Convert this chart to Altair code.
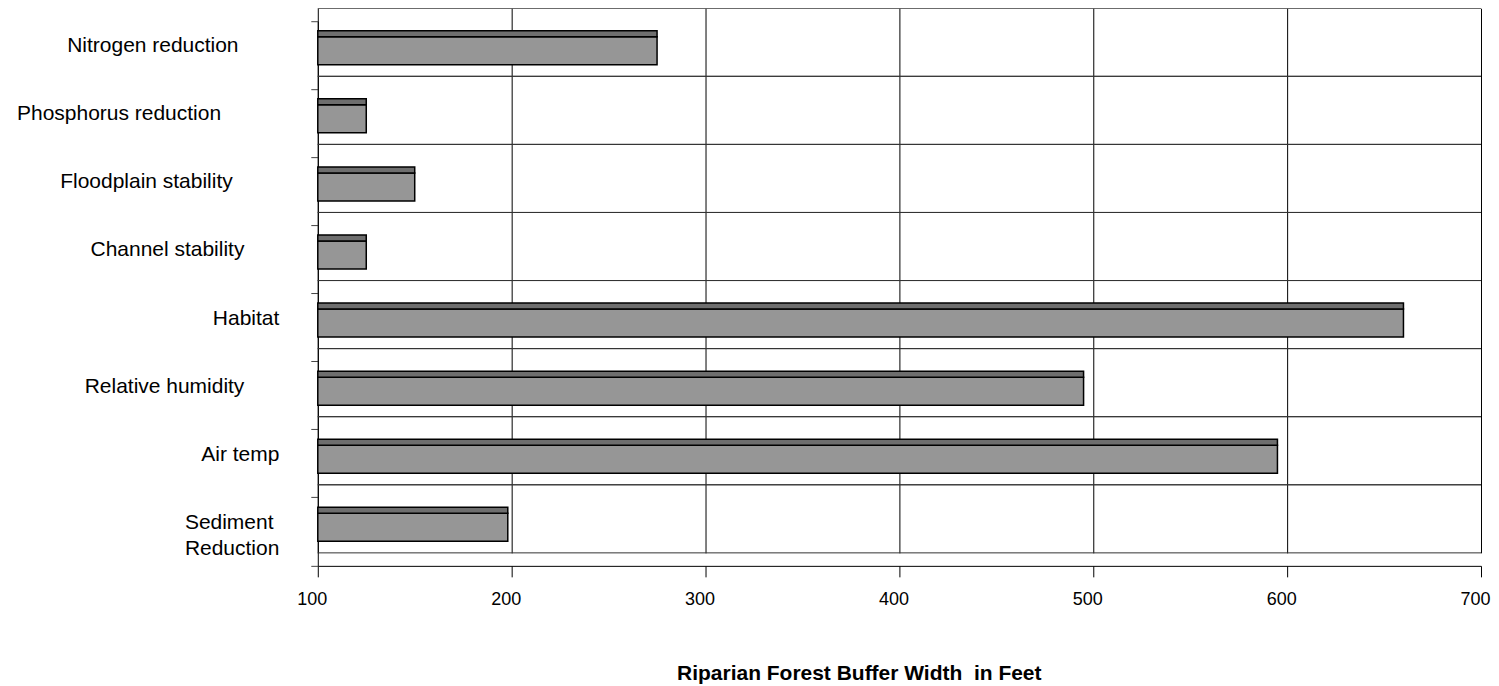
import altair as alt
import pandas as pd

# ---- data ----
categories = [
    "Nitrogen reduction",
    "Phosphorus reduction",
    "Floodplain stability",
    "Channel stability",
    "Habitat",
    "Relative humidity",
    "Air temp",
    "Sediment Reduction",
]
widths_ft = [275, 125, 150, 125, 660, 495, 595, 198]
x_ticks = [100, 200, 300, 400, 500, 600, 700]
x_title = "Riparian Forest Buffer Width\u00a0 in Feet"

df = pd.DataFrame({"category": categories, "width": widths_ft})

# ---- layout / style ----
W, H = 1164, 558
FONT = "Liberation Sans"
NBSP = "\u00a0"
ZWSP = "\u200b"
label_pad = {
    "Nitrogen reduction": 7,
    "Phosphorus reduction": 10,
    "Floodplain stability": 8,
    "Channel stability": 6,
    "Habitat": 0,
    "Relative humidity": 6,
    "Air temp": 0,
}
expr = "datum.value == 'Sediment Reduction' ? ['Sediment" + NBSP + ZWSP + "', 'Reduction']"
for c, n in label_pad.items():
    expr += f" : datum.value == '{c}' ? '{c}{NBSP * n}{ZWSP}'"
expr += " : datum.value"

yscale = alt.Scale(domain=categories, range=[13, 558], paddingInner=0, paddingOuter=0)
xscale = alt.Scale(domain=[100, 700], nice=False, zero=False)

yaxis = alt.Axis(
    title=None, bandPosition=1, tickExtra=True, tickSize=7, tickColor="#444",
    domainColor="#000", labelFont=FONT, labelFontSize=21, labelColor="#000",
    labelAlign="right", labelBaseline="alphabetic", labelOffset=-3,
    labelPadding=32, labelLineHeight=26, labelExpr=expr, labelLimit=400,
    minExtent=310, maxExtent=310, grid=False,
)
xaxis = alt.Axis(
    values=x_ticks, grid=True, gridColor="#000", gridWidth=1, tickSize=11,
    tickColor="#000", domainColor="#000", labelFont=FONT, labelFontSize=18,
    labelColor="#000", labelPadding=14, labelOffset=-6, labelFlush=False,
    labelOverlap=False,
    title=x_title, titleFont=FONT, titleFontSize=21, titleFontWeight="bold",
    titleColor="#000", titleAlign="left", titleX=359, titleY=114,
    titleBaseline="alphabetic",
)

base = alt.Chart(df)
Y = alt.Y("category:N", scale=yscale, axis=yaxis, sort=categories)

hgrid_top = base.mark_rule(color="#333", strokeWidth=1, yOffset=-13).encode(
    y=alt.Y("category:N", scale=yscale, axis=yaxis, sort=categories, bandPosition=0)
)
hgrid_bot = base.mark_rule(color="#333", strokeWidth=1, yOffset=-13).encode(
    y=alt.Y("category:N", scale=yscale, axis=yaxis, sort=categories, bandPosition=1)
)
front = base.mark_bar(size=28, yOffset=-4.5, color="#969696", stroke="#000", strokeWidth=1.5).encode(
    x=alt.X("width:Q", scale=xscale, axis=xaxis),
    x2=alt.datum(100),
    y=Y,
)
top = base.mark_bar(size=6, yOffset=-21.5, color="#6e6e6e", stroke="#000", strokeWidth=1.5).encode(
    x=alt.X("width:Q", scale=xscale, axis=xaxis),
    x2=alt.datum(100),
    y=Y,
)

chart = (
    alt.layer(hgrid_top, hgrid_bot, front, top)
    .properties(width=W, height=H, padding={"left": 0, "top": -17, "right": 0, "bottom": 0}, background="white")
    .configure_view(strokeWidth=0)
)

chart.save("out.html", embed_options={"renderer": "svg", "actions": False})
